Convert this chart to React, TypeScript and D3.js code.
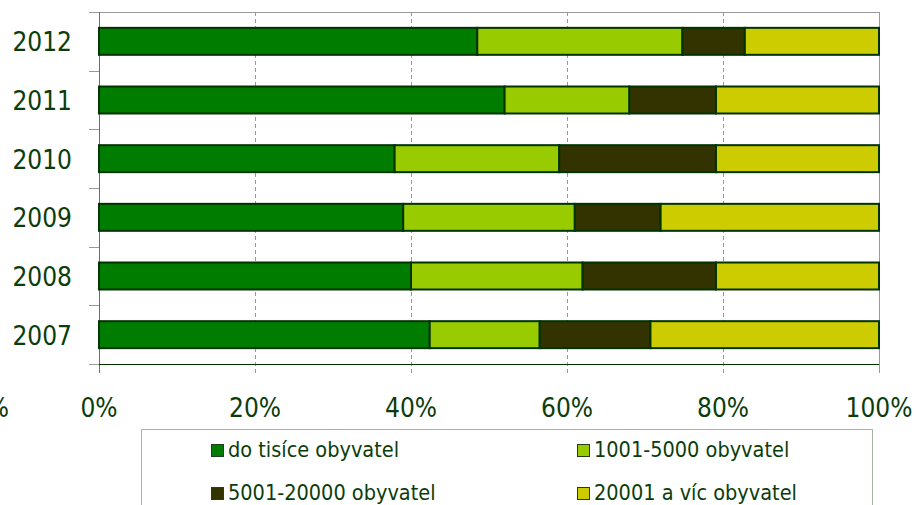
import { useEffect, useRef } from "react";
import * as d3 from "d3";

const years = ["2012", "2011", "2010", "2009", "2008", "2007"];
const doTisice = [48.5, 52.0, 37.9, 39.0, 40.0, 42.4];
const do5000 = [26.3, 16.0, 21.1, 22.0, 22.0, 14.1];
const do20000 = [8.0, 11.1, 20.1, 11.0, 17.1, 14.2];
const nad20000 = [17.2, 20.9, 20.9, 28.0, 20.9, 29.3];

const seriesNames = [
  "do tisíce obyvatel",
  "1001-5000 obyvatel",
  "5001-20000 obyvatel",
  "20001 a víc obyvatel",
];
const colors = ["#007D00", "#99CC00", "#333300", "#CCCC00"];
const xTicks = [0, 0.2, 0.4, 0.6, 0.8, 1];

const FONT = "'DejaVu Sans', Verdana, sans-serif";
const TEXT = "#0B3D0B";

export default function App() {
  const svgRef = useRef<SVGSVGElement>(null);

  useEffect(() => {
    if (!svgRef.current) return;
    const svg = d3.select(svgRef.current);
    svg.selectAll("*").remove();

    const left = 99;
    const right = 879;
    const top = 12;
    const bottom = 364;

    const rows = years.map((y, i) => ({
      year: y,
      a: doTisice[i],
      b: do5000[i],
      c: do20000[i],
      d: nad20000[i],
    }));
    const stack = d3.stack<any>().keys(["a", "b", "c", "d"]).offset(d3.stackOffsetExpand);
    const stacked = stack(rows);

    const x = d3.scaleLinear().domain([0, 1]).range([left, right]);
    const y = d3
      .scaleBand()
      .domain(years)
      .range([top, bottom])
      .paddingInner(0.54)
      .paddingOuter(0.27);

    // top frame
    svg.append("line")
      .attr("x1", 89).attr("x2", right)
      .attr("y1", top + 0.5).attr("y2", top + 0.5)
      .attr("stroke", "#999").attr("stroke-width", 1);

    // gridlines
    xTicks.forEach((t) => {
      const xx = Math.round(x(t)) + 0.5;
      svg.append("line")
        .attr("x1", xx).attr("x2", xx)
        .attr("y1", top).attr("y2", bottom + 9)
        .attr("stroke", t === 0 ? "#5A7A5A" : "#999")
        .attr("stroke-width", 1)
        .attr("stroke-dasharray", t === 0 || t === 1 ? null : "4,3");
    });

    // y ticks at band edges
    const step = y.step();
    d3.range(years.length + 1).forEach((i) => {
      const yy = Math.round(top + i * step) + 0.5;
      svg.append("line")
        .attr("x1", 89).attr("x2", left)
        .attr("y1", yy).attr("y2", yy)
        .attr("stroke", "#999");
    });

    // bars
    stacked.forEach((layer, li) => {
      svg.append("g")
        .selectAll("rect")
        .data(layer)
        .enter()
        .append("rect")
        .attr("x", (d) => x(d[0]))
        .attr("width", (d) => x(d[1]) - x(d[0]))
        .attr("y", (d) => y(d.data.year) ?? 0)
        .attr("height", y.bandwidth())
        .attr("fill", colors[li])
        .attr("stroke", "#003300")
        .attr("stroke-width", 2);
    });

    // bottom axis line
    svg.append("line")
      .attr("x1", left).attr("x2", right)
      .attr("y1", bottom + 0.5).attr("y2", bottom + 0.5)
      .attr("stroke", "#003300").attr("stroke-width", 1);

    // y labels
    svg.append("g")
      .selectAll("text")
      .data(years)
      .enter()
      .append("text")
      .attr("x", 72)
      .attr("y", (d) => (y(d) ?? 0) + y.bandwidth() / 2 + 10)
      .attr("text-anchor", "end")
      .attr("font-family", FONT)
      .attr("font-stretch", "condensed")
      .attr("font-size", 26)
      .attr("fill", TEXT)
      .text((d) => d);

    // x labels
    svg.append("g")
      .selectAll("text")
      .data(xTicks)
      .enter()
      .append("text")
      .attr("x", (d) => x(d))
      .attr("y", 417)
      .attr("text-anchor", "middle")
      .attr("font-family", FONT)
      .attr("font-stretch", "condensed")
      .attr("font-size", 26)
      .attr("fill", TEXT)
      .text((d) => d3.format(".0%")(d));

    // stray % from neighbouring label (cut at the edge, as in the source)
    svg.append("text")
      .attr("x", 9)
      .attr("y", 417)
      .attr("text-anchor", "end")
      .attr("font-family", FONT)
      .attr("font-stretch", "condensed")
      .attr("font-size", 26)
      .attr("fill", TEXT)
      .text("%");

    // legend
    svg.append("rect")
      .attr("x", 141.5).attr("y", 429.5)
      .attr("width", 731).attr("height", 100)
      .attr("fill", "none").attr("stroke", "#A8B4A8");

    const legendPos = [
      [211, 457],
      [577, 457],
      [211, 500],
      [577, 500],
    ];
    seriesNames.forEach((name, i) => {
      const [lx, ly] = legendPos[i];
      svg.append("rect")
        .attr("x", lx + 0.5).attr("y", ly - 12.5)
        .attr("width", 12).attr("height", 12)
        .attr("fill", colors[i])
        .attr("stroke", "#1F3F1F").attr("stroke-width", 1);
      svg.append("text")
        .attr("x", lx + 17)
        .attr("y", ly)
        .attr("font-family", FONT)
        .attr("font-stretch", "condensed")
        .attr("font-size", 21.5)
        .attr("fill", TEXT)
        .text(name);
    });
  }, []);

  return (
    <svg
      ref={svgRef}
      width={916}
      height={505}
      style={{ position: "absolute", left: 0, top: 0, background: "#fff" }}
    />
  );
}
